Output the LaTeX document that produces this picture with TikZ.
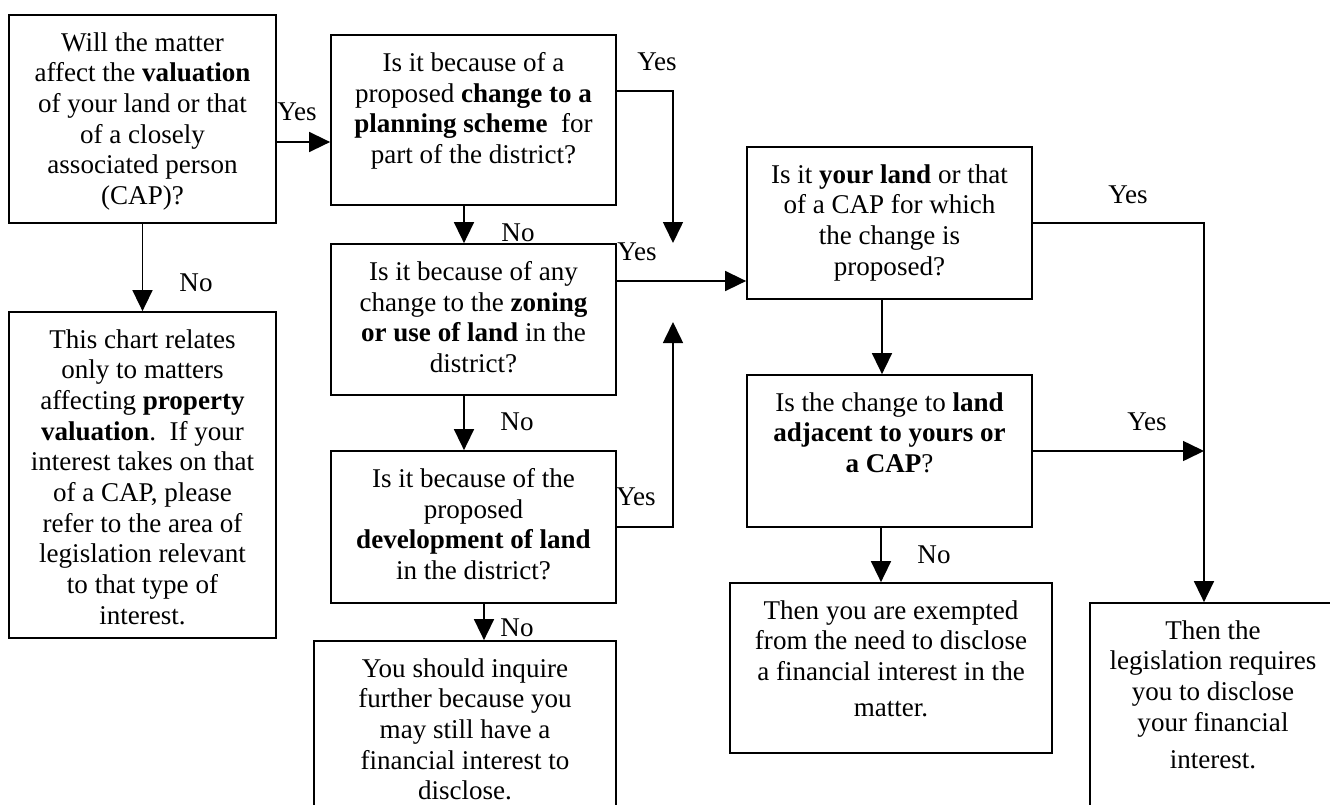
\documentclass[tikz,border=0pt]{standalone}
\usepackage{fontspec}
\setmainfont{Liberation Serif}
\usepackage{tikz}
\usetikzlibrary{arrows.meta,positioning}

\begin{document}
\begin{tikzpicture}[
		box/.style={draw, line width=0.5pt, inner sep=0pt},
		txt/.style={align=center, inner sep=0pt, font=\fontsize{7.7}{8.73}\selectfont},
		lbl/.style={inner sep=0pt, font=\fontsize{7.7}{8.73}\selectfont},
		arr/.style={line width=0.45pt, -{Triangle[length=2.1mm,width=2mm]}}]
		\useasboundingbox (0,0) rectangle (13.3,8.04);
		\clip (0,0) rectangle (13.3,8.04);
		\node[box, minimum width=2.67cm, minimum height=2.08cm] (valuation) at (1.425,6.85) {};
		\node[txt, below=1.76mm of valuation.north] (valuationtxt) {Will the matter\\ affect the \textbf{valuation}\\ of your land or that\\ of a closely\\ associated person\\ (CAP)?};
		\node[box, minimum width=2.85cm, minimum height=1.70cm] (planning) at (4.735,6.84) {};
		\node[txt, below=1.76mm of planning.north] (planningtxt) {Is it because of a\\ proposed \textbf{change to a}\\ \textbf{planning scheme}\ \ for\\ part of the district?};
		\node[box, minimum width=2.85cm, minimum height=1.51cm] (zoning) at (4.735,4.845) {};
		\node[txt, below=1.76mm of zoning.north] (zoningtxt) {Is it because of any\\ change to the \textbf{zoning}\\ \textbf{or use of land} in the\\ district?};
		\node[box, minimum width=2.85cm, minimum height=1.52cm] (develop) at (4.735,2.77) {};
		\node[txt, below=1.76mm of develop.north] (developtxt) {Is it because of the\\ proposed\\ \textbf{development of land}\\ in the district?};
		\node[box, minimum width=2.67cm, minimum height=3.26cm] (scopenote) at (1.425,3.29) {};
		\node[txt, below=1.76mm of scopenote.north] (scopenotetxt) {This chart relates\\ only to matters\\ affecting \textbf{property}\\ \textbf{valuation}.\ \ If your\\ interest takes on that\\ of a CAP, please\\ refer to the area of\\ legislation relevant\\ to that type of\\ interest.};
		\node[box, minimum width=2.85cm, minimum height=1.52cm] (yourland) at (8.895,5.81) {};
		\node[txt, below=1.76mm of yourland.north] (yourlandtxt) {Is it \textbf{your land} or that\\ of a CAP for which\\ the change is\\ proposed?};
		\node[box, minimum width=2.85cm, minimum height=1.52cm] (adjacent) at (8.895,3.53) {};
		\node[txt, below=1.76mm of adjacent.north] (adjacenttxt) {Is the change to \textbf{land}\\ \textbf{adjacent to yours or}\\ \textbf{a CAP}?};
		\node[box, minimum width=3.02cm, minimum height=1.74cm] (inquire) at (4.65,0.76) {};
		\node[txt, below=1.76mm of inquire.north] (inquiretxt) {You should inquire\\ further because you\\ may still have a\\ financial interest to\\ disclose.};
		\node[box, minimum width=3.22cm, minimum height=1.70cm] (exempt) at (8.91,1.36) {};
		\node[txt, below=1.76mm of exempt.north] (exempttxt) {Then you are exempted\\ from the need to disclose\\ a financial interest in the\\[1.4pt] matter.};
		\node[box, minimum width=2.46cm, minimum height=2.27cm] (disclose) at (12.13,0.875) {};
		\node[txt, below=1.76mm of disclose.north] (disclosetxt) {Then the\\ legislation requires\\ you to disclose\\ your financial\\[2pt] interest.};
		\coordinate (planningtip) at (6.73,5.61);
		\coordinate (developtip) at (6.73,4.82);
		\coordinate (rightrail) at (12.04,5.81);
		\draw[arr] ([yshift=-0.23cm]valuation.east) -- ([yshift=-0.23cm]valuation.east -| planning.west);
		\draw[arr] (valuation.south) -- (scopenote.north);
		\draw[arr] ([yshift=0.29cm]planning.east) -| (planningtip);
		\draw[arr] ([xshift=-0.095cm]planning.south) -- ([xshift=-0.095cm]planning.south |- zoning.north);
		\draw[arr] ([yshift=0.385cm]zoning.east) -- ([yshift=0.385cm]zoning.east -| yourland.west);
		\draw[arr] ([xshift=-0.095cm]zoning.south) -- ([xshift=-0.095cm]zoning.south |- develop.north);
		\draw[arr] (develop.east) -| (developtip);
		\draw[arr] ([xshift=0.105cm]develop.south) -- ([xshift=0.105cm]develop.south |- inquire.north);
		\draw[arr] (yourland.east) -- (rightrail) -- (rightrail |- disclose.north);
		\draw[arr] (adjacent.east) -- (adjacent.east -| rightrail);
		\draw[arr] ([xshift=-0.075cm]yourland.south) -- ([xshift=-0.075cm]yourland.south |- adjacent.north);
		\draw[arr] ([xshift=-0.085cm]adjacent.south) -- ([xshift=-0.085cm]adjacent.south |- exempt.north);
		\node[lbl] (yesvaluation) at (2.97,6.92) {Yes};
		\node[lbl] (novaluation) at (1.96,5.21) {No};
		\node[lbl] (yesplanning) at (6.57,7.42) {Yes};
		\node[lbl] (noplanning) at (5.18,5.71) {No};
		\node[lbl] (yeszoning) at (6.37,5.52) {Yes};
		\node[lbl] (nozoning) at (5.17,3.82) {No};
		\node[lbl] (yesdevelop) at (6.36,3.07) {Yes};
		\node[lbl] (nodevelop) at (5.17,1.76) {No};
		\node[lbl] (yesyourland) at (11.28,6.09) {Yes};
		\node[lbl] (yesadjacent) at (11.47,3.82) {Yes};
		\node[lbl] (noadjacent) at (9.34,2.49) {No};
	\end{tikzpicture}
\end{document}
